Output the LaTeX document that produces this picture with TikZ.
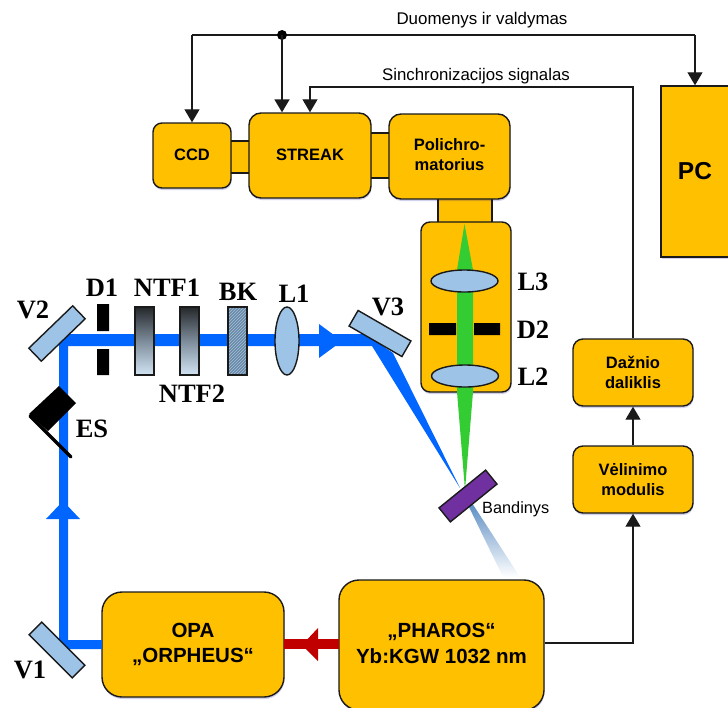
\documentclass[tikz,border=0pt]{standalone}
\usepackage{fontspec}
\setmainfont{Liberation Sans}
\newfontfamily\serifb{Liberation Serif}[BoldFont={Liberation Serif Bold}]
\usetikzlibrary{arrows.meta,shadows,patterns,shapes.geometric}
\definecolor{boxy}{HTML}{FFC000}
\definecolor{beamb}{HTML}{0066FF}
\definecolor{beamg}{HTML}{33CC33}
\definecolor{lensb}{HTML}{9DC3E6}
\definecolor{purp}{HTML}{7030A0}
\definecolor{redb}{HTML}{C00000}
\definecolor{edgek}{HTML}{1A1A1A}
\definecolor{fadeb}{HTML}{5588C0}
\definecolor{filttop}{HTML}{25282B}
\definecolor{filtmid}{HTML}{7D8C9A}
\definecolor{filtbot}{HTML}{D2E4F4}
\tikzset{
  box/.style={draw=edgek,line width=1.4pt,fill=boxy,rounded corners=#1,inner sep=0pt,align=center,font=\bfseries\fontsize{16.5}{20}\selectfont,
    drop shadow={shadow xshift=0.5pt,shadow yshift=-2pt,opacity=.18,fill=blue!60!black}},
  box/.default=9pt,
  link/.style={draw=edgek,line width=1.4pt,fill=boxy,inner sep=0pt},
  mirror/.style={draw=edgek,line width=1.4pt,fill=lensb,inner sep=0pt,minimum width=61pt,minimum height=18pt},
  lens/.style={ellipse,draw=edgek,line width=1.4pt,fill=lensb,inner sep=0pt},
  lbl/.style={font=\serifb\bfseries\fontsize{26.5}{28}\selectfont,inner sep=0pt},
  thin label/.style={inner sep=0pt},
  sig/.style={draw=edgek,line width=1.2pt,-{Triangle[length=13pt,width=15pt]}},
  sigthick/.style={draw=edgek,line width=1.9pt,-{Triangle[length=13pt,width=15pt]}},
  filt/.style={draw=edgek,line width=1.4pt,inner sep=0pt,top color=filttop,bottom color=filtbot,middle color=filtmid,minimum width=19pt,minimum height=68pt},
}
\begin{document}
\begin{tikzpicture}[x=1pt,y=-1pt]
\useasboundingbox (0,0) rectangle (728,707);
\clip (0,0) rectangle (728,707);
% links between boxes
\node[link,minimum width=22pt,minimum height=32pt] (lnkA) at (240,157) {};
\node[link,minimum width=22pt,minimum height=45pt] (lnkB) at (380,155.5) {};
\node[link,minimum width=54pt,minimum height=26pt] (lnkC) at (465,210) {};
% boxes
\node[box,minimum width=78pt,minimum height=65pt] (ccd) at (192,155.5) {\raisebox{2pt}{CCD}};
\node[box=12pt,minimum width=122pt,minimum height=85pt] (streak) at (310,155.5) {\raisebox{2pt}{STREAK}};
\node[box=12pt,minimum width=121pt,minimum height=85pt,text depth=0pt] (poli) at (449.5,156.5) {\raisebox{3pt}{Polichro-}\\\raisebox{3pt}{matorius}};
\node[box,minimum width=90pt,minimum height=170pt] (spec) at (466,307) {};
\node[box=0pt,minimum width=90pt,minimum height=171pt,font=\bfseries\fontsize{24.5}{26}\selectfont] (pc) at (706,171.5) {\hspace{-22pt}PC};
\node[box=10pt,minimum width=120pt,minimum height=67pt] (daz) at (633,372.5) {Dažnio\\daliklis};
\node[box=10pt,minimum width=120pt,minimum height=67pt] (vel) at (633,479.5) {Vėlinimo\\modulis};
\node[box=20pt,minimum width=182pt,minimum height=105pt,font=\bfseries\fontsize{20.5}{25}\selectfont] (opa) at (193,644.5) {\raisebox{2pt}{OPA}\\\raisebox{2pt}{„ORPHEUS“}};
\node[box=20pt,minimum width=205pt,minimum height=130pt,font=\bfseries\fontsize{20.5}{26}\selectfont] (pharos) at (441.5,645) {\raisebox{3pt}{„PHAROS“}\\\raisebox{3pt}{Yb:KGW 1032 nm}};
% sample beam fade
\begin{scope}
\clip (468,505) -- (503,577) -- (520,577) -- (472,503) -- cycle;
\shade[top color=fadeb,bottom color=white] (460,500) rectangle (525,577);
\end{scope}
% blue beam
\fill[beamb] (102,640) -- (68,640) -- (68,346) -- (372,346) -- (460,488) -- (393,353) -- (365,334) -- (59,334) -- (59,649) -- (102,649) -- cycle;
\fill[beamb] (46,519) -- (63,501) -- (80,519) -- cycle;
\fill[beamb] (319,324) -- (342,341) -- (319,358) -- cycle;
% green beam
\fill[beamg] (464.5,224) -- (473,270) -- (473,392) -- (465,490) -- (457,392) -- (457,270) -- cycle;
% red beam
\fill[redb] (284,639) rectangle (339,649);
\fill[redb] (302,645) -- (318,628) -- (318,661) -- cycle;
% spectrometer optics
\node[lens,minimum width=67pt,minimum height=22pt] (L3) at (464.5,281) {};
\node[lens,minimum width=67pt,minimum height=22pt] (L2) at (465,376) {};
\fill[black] (429,323) rectangle (456,335) (474,323) rectangle (500,335);
% mirrors
\node[mirror,rotate=44] (V2) at (57,333.5) {};
\node[mirror,rotate=-45] (V1) at (57,650) {};
\node[mirror,rotate=-30] (V3) at (380,333.5) {};
\node[draw=edgek,line width=1.4pt,fill=purp,inner sep=0pt,minimum width=60pt,minimum height=18pt,rotate=39] (sample) at (468,496) {};
% D1 and filters
\fill[black] (97,304) rectangle (109,331) (97,349) rectangle (109,375);
\node[filt] (ntfa) at (144.5,341) {};
\node[filt] (ntfb) at (189.5,341) {};
\node[draw=edgek,line width=1.4pt,fill=lensb!70!black,inner sep=0pt,minimum width=19pt,minimum height=68pt] (bk) at (237.5,341) {};
\fill[pattern=north east lines,pattern color=lensb] (228,307) rectangle (247,375);
\draw[edgek,line width=1.4pt] (228,307) rectangle (247,375);
\node[lens,minimum width=24pt,minimum height=68pt] (L1) at (287,341) {};
% beam stop
\fill[black] (59,386) -- (76,403) -- (48,431) -- (29,414) -- cycle;
\draw[black,line width=3.4pt,line cap=round] (30,416) -- (71,457);
% connectors
\coordinate (jct) at (282,35);
\coordinate (tl) at (192,35);
\coordinate (tr) at (695,35);
\coordinate (sl) at (310,87);
\coordinate (sr) at (633,87);
\coordinate (ph) at (633,643);
\draw[edgek,line width=1.2pt] (tl) -- (tr);
\fill[black] (jct) circle (5pt);
\draw[sig] (tl) -- (ccd.north -| tl);
\draw[sig] (tr) -- (pc.north -| tr);
\draw[sigthick] (jct) -- (streak.north -| jct);
\draw[sig] (daz.north -| sr) -- (sr) -- (sl) -- (streak.north -| sl);
\draw[sig] (pharos.east |- ph) -- (ph) -- (vel.south);
\draw[sig] (vel.north) -- (daz.south);
% labels
\node[thin label,font=\fontsize{16.9}{18}\selectfont] (t1) at (482,20) {Duomenys ir valdymas};
\node[thin label,font=\fontsize{16.8}{18}\selectfont] (t2) at (476,76) {Sinchronizacijos signalas};
\node[thin label,font=\fontsize{16.3}{18}\selectfont,anchor=west] (t3) at (482,509) {Bandinys};
\node[lbl] (lV2) at (33,310) {V2};
\node[lbl] (lD1) at (102,288) {D1};
\node[lbl] (lN1) at (167,288) {NTF1};
\node[lbl] (lN2) at (192,394) {NTF2};
\node[lbl] (lBK) at (238,292) {BK};
\node[lbl] (lL1) at (294,294) {L1};
\node[lbl] (lV3) at (388,307) {V3};
\node[lbl] (lL3) at (533,282) {L3};
\node[lbl] (lD2) at (533,330) {D2};
\node[lbl] (lL2) at (533,377) {L2};
\node[lbl] (lES) at (92,429) {ES};
\node[lbl] (lV1) at (30,670) {V1};
\end{tikzpicture}
\end{document}
